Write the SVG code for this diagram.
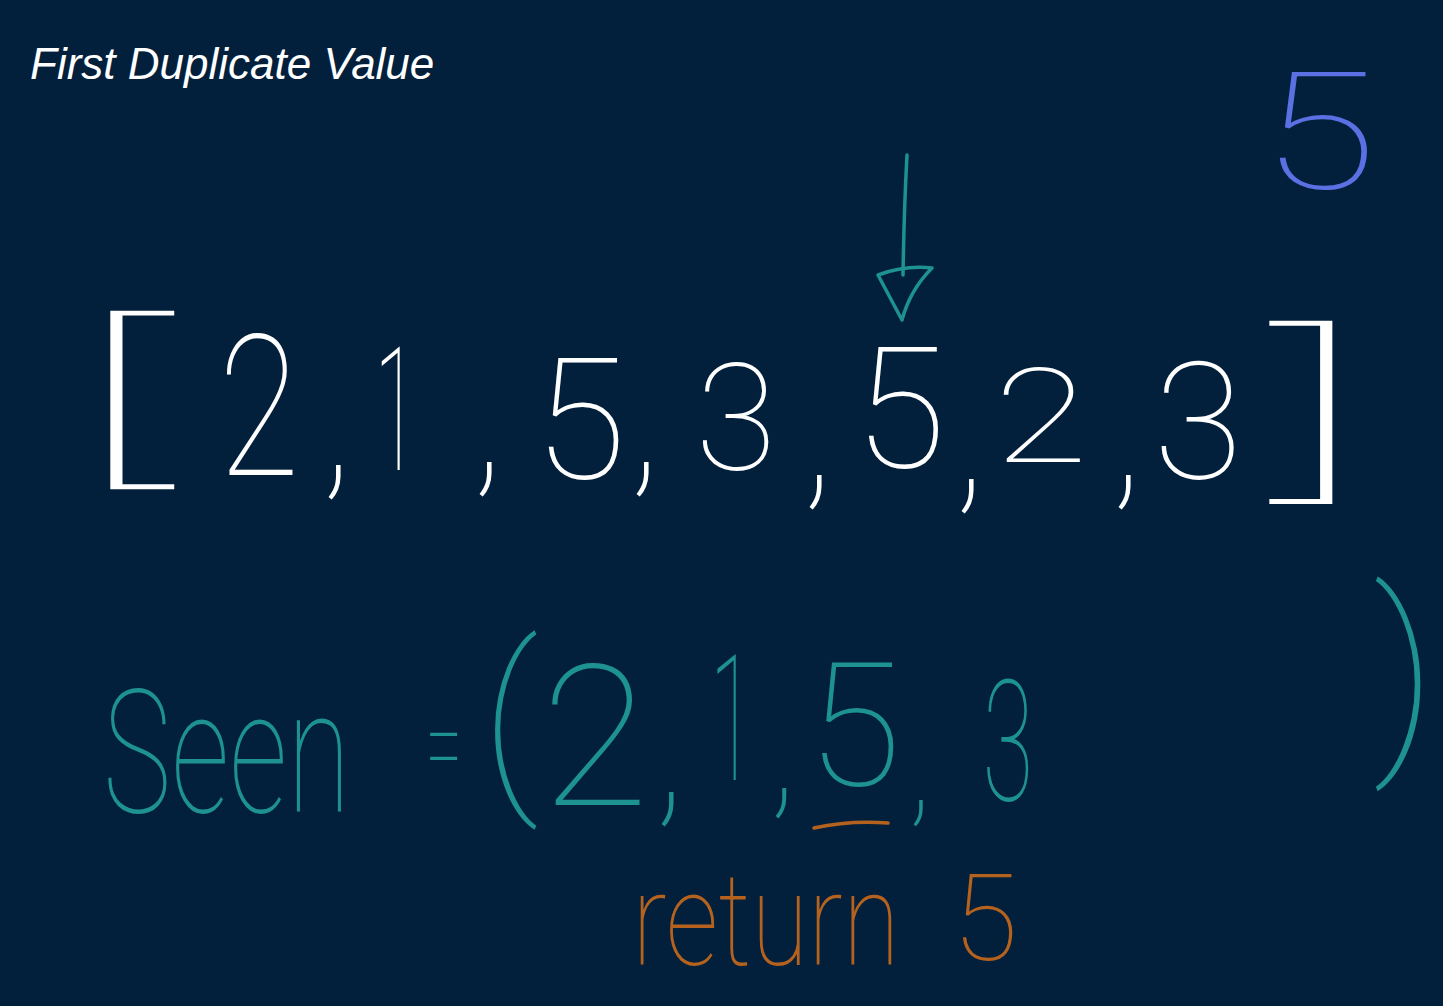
<svg xmlns="http://www.w3.org/2000/svg" width="1443" height="1006" viewBox="0 0 1443 1006">
<style>
.hw{font-family:Roboto,Lato,Inter,"DejaVu Sans",sans-serif;font-weight:100;text-anchor:middle}
.st{text-anchor:start}
.w{fill:#ffffff}
.t{fill:#1e9191}
.o{fill:#b5621f}
.b{fill:#5b70e2}
.title{font-family:"Liberation Sans",Arial,sans-serif;font-style:italic;font-size:44px;fill:#ffffff}
.ln{fill:none;stroke-linecap:round;stroke-linejoin:round;stroke-width:3.5}
</style>
<rect width="1443" height="1006" fill="#02203c"/>
<text id="title" class="title" x="30" y="79">First Duplicate Value</text>
<g id="blue5"><text class="hw b" transform="translate(1319,188) scale(1.3,1)" x="0" y="0" font-size="163">5</text></g>
<g id="arrow">
<path class="ln" stroke="#1e9191" d="M907,155 Q904,210 903,275"/>
<path class="ln" stroke="#1e9191" d="M878,275 Q905,265 932,268 Q910,290 902,320 Z"/>
</g>
<g id="array" class="hw w">
<text transform="translate(119,461) scale(2.5,1)" x="0" y="0" font-size="185">[</text>
<text transform="translate(259,475) scale(0.75,1)" x="0" y="0" font-size="197">2</text>
<text x="337" y="478" font-size="170">,</text>
<text transform="translate(396,470) scale(0.45,1)" x="0" y="0" font-size="172">1</text>
<text x="488" y="475" font-size="170">,</text>
<text x="580" y="478" font-size="169">5</text>
<text x="645" y="475" font-size="170">,</text>
<text x="736" y="470" font-size="148">3</text>
<text x="818" y="488" font-size="170">,</text>
<text x="900" y="467" font-size="168">5</text>
<text x="970" y="492" font-size="170">,</text>
<text transform="translate(1041,462) scale(1.3,1)" x="0" y="0" font-size="132">2</text>
<text x="1127" y="488" font-size="170">,</text>
<text x="1198" y="478" font-size="163">3</text>
<text transform="translate(1320,475) scale(2.4,1)" x="0" y="0" font-size="190">]</text>
</g>
<g id="seen" class="hw t">
<text class="hw t st" transform="translate(103,812) scale(0.67,1)" x="0" y="0" font-size="172">Seen</text>
<text transform="translate(444,786) scale(0.55,1)" x="0" y="0" font-size="120">=</text>
<text x="510" y="785" font-size="195">(</text>
<text x="595" y="805" font-size="197">2</text>
<text x="670" y="805" font-size="170">,</text>
<text transform="translate(732,780) scale(0.45,1)" x="0" y="0" font-size="176">1</text>
<text x="783" y="800" font-size="150">,</text>
<text x="854" y="785" font-size="173">5</text>
<text x="920" y="810" font-size="130">,</text>
<text transform="translate(1008,800) scale(0.55,1)" x="0" y="0" font-size="169">3</text>
<text x="1405" y="743" font-size="210">)</text>
</g>
<g id="result">
<path class="ln" stroke="#b5621f" stroke-width="5" d="M814,828 Q850,820 888,823"/>
<text class="hw o st" transform="translate(632,965) scale(0.8,1)" x="0" y="0" font-size="130">return</text>
<text class="hw o" x="985" y="960" font-size="120">5</text>
</g>
</svg>
